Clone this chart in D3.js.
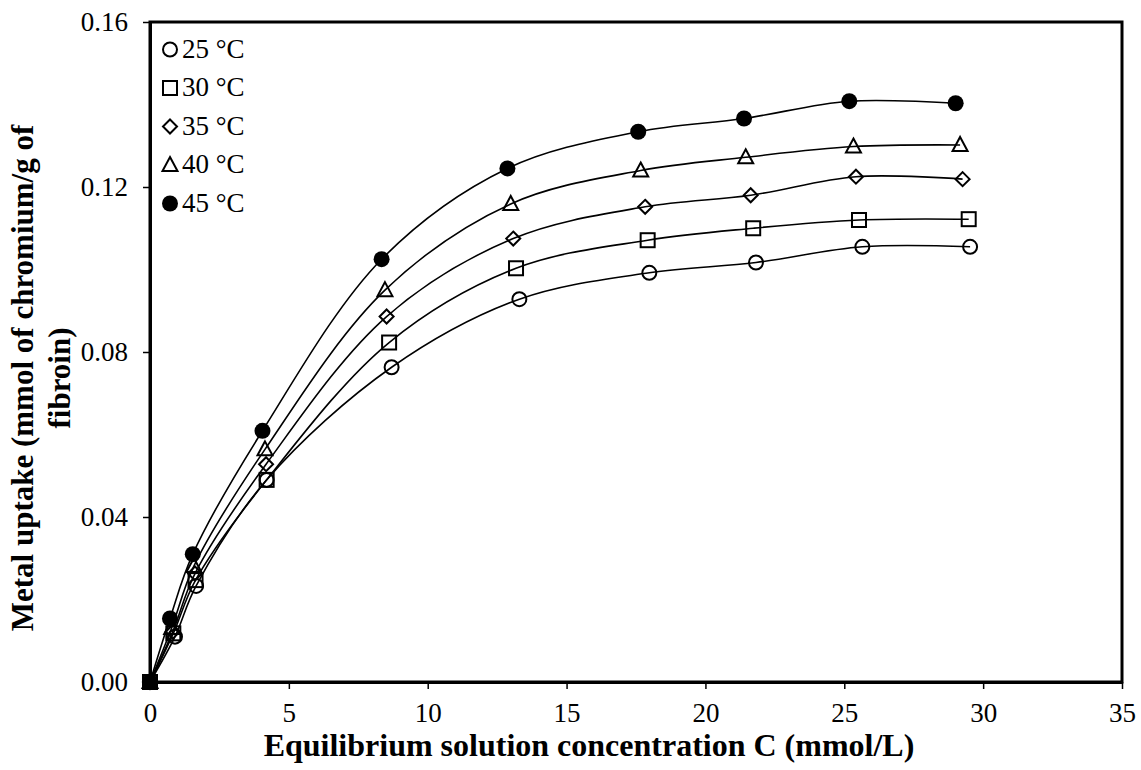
<!DOCTYPE html>
<html><head><meta charset="utf-8">
<script src="https://cdn.jsdelivr.net/npm/d3@7"></script>
<style>body{margin:0;background:#fff;} svg{display:block;} svg text{font-family:"Liberation Serif","Tinos","Times New Roman","DejaVu Serif",serif;}</style>
</head><body>
<svg id="chart" width="1141" height="770"></svg>
<script>
const seriesNames = ["25 °C", "30 °C", "35 °C", "40 °C", "45 °C"];
const x25 = [0, 0.90, 1.66, 4.20, 8.70, 13.30, 17.98, 21.82, 25.65, 29.53];
const y25 = [0, 0.0110, 0.0233, 0.0490, 0.0763, 0.0928, 0.0992, 0.1017, 0.1055, 0.1055];
const x30 = [0, 0.84, 1.64, 4.20, 8.61, 13.18, 17.92, 21.72, 25.53, 29.48];
const y30 = [0, 0.0118, 0.0247, 0.0490, 0.0823, 0.1003, 0.1071, 0.1100, 0.1120, 0.1122];
const x35 = [0, 0.82, 1.62, 4.18, 8.52, 13.08, 17.83, 21.63, 25.42, 29.26];
const y35 = [0, 0.0122, 0.0263, 0.0528, 0.0886, 0.1075, 0.1152, 0.1180, 0.1225, 0.1219];
const x40 = [0, 0.78, 1.58, 4.14, 8.46, 12.99, 17.67, 21.45, 25.33, 29.17];
const y40 = [0, 0.0131, 0.0281, 0.0564, 0.0950, 0.1159, 0.1240, 0.1272, 0.1298, 0.1302];
const x45 = [0, 0.72, 1.54, 4.05, 8.34, 12.87, 17.58, 21.39, 25.18, 29.01];
const y45 = [0, 0.0154, 0.0310, 0.0609, 0.1025, 0.1245, 0.1334, 0.1366, 0.1408, 0.1403];
const xTicks = [0, 5, 10, 15, 20, 25, 30, 35];
const yTicks = [0.00, 0.04, 0.08, 0.12, 0.16];
const xTitle = "Equilibrium solution concentration C (mmol/L)";
const yTitleLines = ["Metal uptake (mmol of chromium/g of", "fibroin)"];

const xs = [x25, x30, x35, x40, x45];
const ys = [y25, y30, y35, y40, y45];
const symbols = ["circle", "square", "diamond", "triangle", "filled"];

const svg = d3.select("#chart");
const W = 1141, H = 770;
const m = {left: 150, right: 19, top: 22, bottom: 88};
const x = d3.scaleLinear().domain([0, 35]).range([m.left, W - m.right]);
const y = d3.scaleLinear().domain([0, 0.16]).range([H - m.bottom, m.top]);

svg.append("rect").attr("x", x(0)).attr("y", y(0.16))
  .attr("width", x(35) - x(0)).attr("height", y(0) - y(0.16))
  .attr("fill", "none").attr("stroke", "#000").attr("stroke-width", 3);

const xAxis = d3.axisBottom(x).tickValues(xTicks).tickFormat(d3.format("d")).tickSize(7).tickSizeOuter(0).tickPadding(14);
const gx = svg.append("g").attr("transform", `translate(0,${y(0)})`).call(xAxis);
gx.attr("font-family", null);
gx.select(".domain").attr("stroke-width", 3);
gx.selectAll(".tick line").attr("stroke-width", 1.5);
gx.selectAll("text").attr("font-size", 27).attr("fill", "#000");

const yAxis = d3.axisLeft(y).tickValues(yTicks).tickFormat(d3.format(".2f")).tickSize(7).tickSizeOuter(0).tickPadding(15);
const gy = svg.append("g").attr("transform", `translate(${x(0)},0)`).call(yAxis);
gy.attr("font-family", null);
gy.select(".domain").attr("stroke-width", 3);
gy.selectAll(".tick line").attr("stroke-width", 1.5);
gy.selectAll("text").attr("font-size", 27).attr("fill", "#000");

svg.append("text").attr("x", 589).attr("y", 756)
  .attr("text-anchor", "middle").attr("font-weight", "bold")
  .attr("font-size", 32).text(xTitle);
const yt = svg.append("text").attr("transform", "translate(0,378) rotate(-90)")
  .attr("text-anchor", "middle").attr("font-weight", "bold").attr("font-size", 31);
yt.append("tspan").attr("x", 0).attr("y", 33).text(yTitleLines[0]);
yt.append("tspan").attr("x", 0).attr("y", 70).text(yTitleLines[1]);

const line = d3.line().x(d => x(d[0])).y(d => y(d[1])).curve(d3.curveCatmullRom.alpha(0.5));
xs.forEach((xa, i) => {
  const pts = xa.map((v, j) => [v, ys[i][j]]);
  svg.append("path").attr("d", line(pts)).attr("fill", "none").attr("stroke", "#000").attr("stroke-width", 1.6);
});

function drawMarker(g, sym, cx, cy) {
  const sw = 2;
  if (sym === "circle") g.append("circle").attr("cx", cx).attr("cy", cy).attr("r", 7).attr("fill", "none").attr("stroke", "#000").attr("stroke-width", sw);
  else if (sym === "square") g.append("rect").attr("x", cx - 7).attr("y", cy - 7).attr("width", 14).attr("height", 14).attr("fill", "none").attr("stroke", "#000").attr("stroke-width", sw);
  else if (sym === "diamond") g.append("path").attr("d", `M${cx},${cy-7}L${cx+7},${cy}L${cx},${cy+7}L${cx-7},${cy}Z`).attr("fill", "none").attr("stroke", "#000").attr("stroke-width", sw);
  else if (sym === "triangle") g.append("path").attr("d", `M${cx},${cy-8}L${cx+7.5},${cy+6}L${cx-7.5},${cy+6}Z`).attr("fill", "none").attr("stroke", "#000").attr("stroke-width", sw);
  else g.append("circle").attr("cx", cx).attr("cy", cy).attr("r", 8).attr("fill", "#000");
}

xs.forEach((xa, i) => {
  const g = svg.append("g");
  xa.forEach((v, j) => drawMarker(g, symbols[i], x(v), y(ys[i][j])));
});

const lg = svg.append("g");
seriesNames.forEach((name, i) => {
  const cy = 49.5 + i * 38.5;
  drawMarker(lg, symbols[i], 170, cy);
  lg.append("text").attr("x", 182).attr("y", cy + 8).attr("font-size", 27).text(name);
});
</script>
</body></html>
